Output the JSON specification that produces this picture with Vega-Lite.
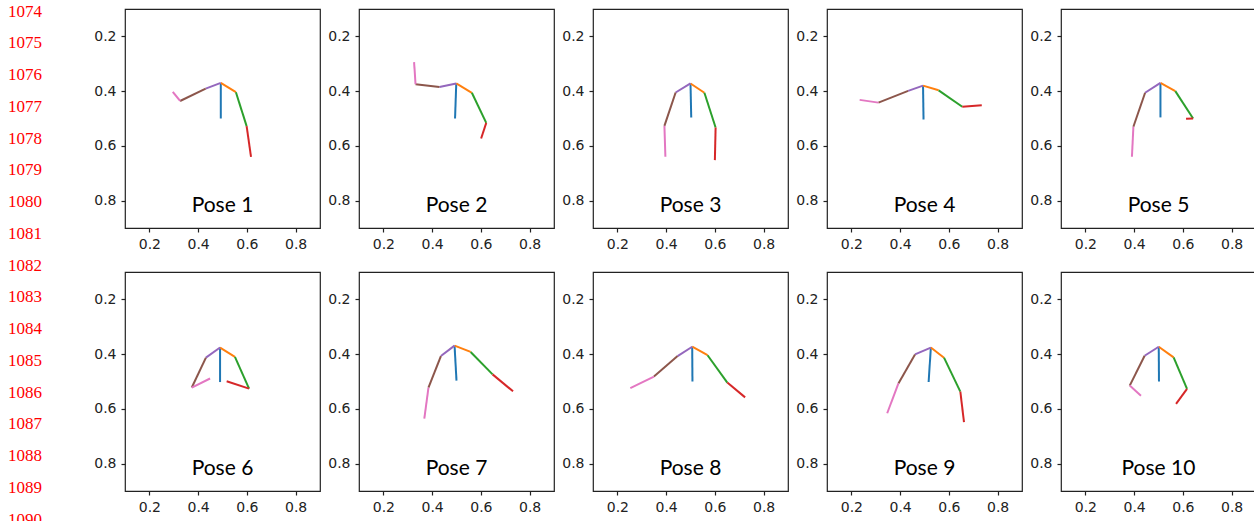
{
  "$schema": "https://vega.github.io/schema/vega-lite/v6.json",
  "padding": {"left": 0, "top": 2, "right": 0, "bottom": 0},
  "bounds": "flush",
  "spacing": 75,
  "config": {
    "view": {"stroke": "#222", "strokeWidth": 1.2},
    "axis": {"grid": false, "domain": false, "labelFont": "DejaVu Sans", "labelFontSize": 14, "labelColor": "#222", "tickColor": "#222", "tickSize": 4, "tickWidth": 1.2, "labelPadding": 5}
  },
  "datasets": {
    "lines": [
      {"n": 1074}, {"n": 1075}, {"n": 1076}, {"n": 1077}, {"n": 1078}, {"n": 1079}, {"n": 1080}, {"n": 1081}, {"n": 1082},
      {"n": 1083}, {"n": 1084}, {"n": 1085}, {"n": 1086}, {"n": 1087}, {"n": 1088}, {"n": 1089}, {"n": 1090}
    ],
    "segs": [
      {"id": 1, "pose": "Pose 1", "seg": "spine", "x": 0.493, "y": 0.370, "x2": 0.493, "y2": 0.500},
      {"id": 1, "pose": "Pose 1", "seg": "rsh", "x": 0.493, "y": 0.370, "x2": 0.555, "y2": 0.404},
      {"id": 1, "pose": "Pose 1", "seg": "rup", "x": 0.555, "y": 0.404, "x2": 0.599, "y2": 0.528},
      {"id": 1, "pose": "Pose 1", "seg": "rlo", "x": 0.599, "y": 0.528, "x2": 0.617, "y2": 0.640},
      {"id": 1, "pose": "Pose 1", "seg": "lsh", "x": 0.493, "y": 0.370, "x2": 0.431, "y2": 0.391},
      {"id": 1, "pose": "Pose 1", "seg": "lup", "x": 0.431, "y": 0.391, "x2": 0.326, "y2": 0.436},
      {"id": 1, "pose": "Pose 1", "seg": "llo", "x": 0.326, "y": 0.436, "x2": 0.296, "y2": 0.403},

      {"id": 2, "pose": "Pose 2", "seg": "spine", "x": 0.499, "y": 0.372, "x2": 0.494, "y2": 0.500},
      {"id": 2, "pose": "Pose 2", "seg": "rsh", "x": 0.499, "y": 0.372, "x2": 0.563, "y2": 0.406},
      {"id": 2, "pose": "Pose 2", "seg": "rup", "x": 0.563, "y": 0.406, "x2": 0.622, "y2": 0.516},
      {"id": 2, "pose": "Pose 2", "seg": "rlo", "x": 0.622, "y": 0.516, "x2": 0.601, "y2": 0.573},
      {"id": 2, "pose": "Pose 2", "seg": "lsh", "x": 0.499, "y": 0.372, "x2": 0.430, "y2": 0.385},
      {"id": 2, "pose": "Pose 2", "seg": "lup", "x": 0.430, "y": 0.385, "x2": 0.332, "y2": 0.375},
      {"id": 2, "pose": "Pose 2", "seg": "llo", "x": 0.332, "y": 0.375, "x2": 0.326, "y2": 0.294},

      {"id": 3, "pose": "Pose 3", "seg": "spine", "x": 0.500, "y": 0.372, "x2": 0.503, "y2": 0.496},
      {"id": 3, "pose": "Pose 3", "seg": "rsh", "x": 0.500, "y": 0.372, "x2": 0.557, "y2": 0.406},
      {"id": 3, "pose": "Pose 3", "seg": "rup", "x": 0.557, "y": 0.406, "x2": 0.603, "y2": 0.533},
      {"id": 3, "pose": "Pose 3", "seg": "rlo", "x": 0.603, "y": 0.533, "x2": 0.600, "y2": 0.652},
      {"id": 3, "pose": "Pose 3", "seg": "lsh", "x": 0.500, "y": 0.372, "x2": 0.439, "y2": 0.405},
      {"id": 3, "pose": "Pose 3", "seg": "lup", "x": 0.439, "y": 0.405, "x2": 0.393, "y2": 0.527},
      {"id": 3, "pose": "Pose 3", "seg": "llo", "x": 0.393, "y": 0.527, "x2": 0.397, "y2": 0.640},

      {"id": 4, "pose": "Pose 4", "seg": "spine", "x": 0.494, "y": 0.380, "x2": 0.496, "y2": 0.504},
      {"id": 4, "pose": "Pose 4", "seg": "rsh", "x": 0.494, "y": 0.380, "x2": 0.558, "y2": 0.397},
      {"id": 4, "pose": "Pose 4", "seg": "rup", "x": 0.558, "y": 0.397, "x2": 0.655, "y2": 0.457},
      {"id": 4, "pose": "Pose 4", "seg": "rlo", "x": 0.655, "y": 0.457, "x2": 0.735, "y2": 0.452},
      {"id": 4, "pose": "Pose 4", "seg": "lsh", "x": 0.494, "y": 0.380, "x2": 0.433, "y2": 0.399},
      {"id": 4, "pose": "Pose 4", "seg": "lup", "x": 0.433, "y": 0.399, "x2": 0.311, "y2": 0.442},
      {"id": 4, "pose": "Pose 4", "seg": "llo", "x": 0.311, "y": 0.442, "x2": 0.234, "y2": 0.432},

      {"id": 5, "pose": "Pose 5", "seg": "spine", "x": 0.508, "y": 0.370, "x2": 0.508, "y2": 0.496},
      {"id": 5, "pose": "Pose 5", "seg": "rsh", "x": 0.508, "y": 0.370, "x2": 0.569, "y2": 0.400},
      {"id": 5, "pose": "Pose 5", "seg": "rup", "x": 0.569, "y": 0.400, "x2": 0.642, "y2": 0.500},
      {"id": 5, "pose": "Pose 5", "seg": "rlo", "x": 0.642, "y": 0.500, "x2": 0.613, "y2": 0.501},
      {"id": 5, "pose": "Pose 5", "seg": "lsh", "x": 0.508, "y": 0.370, "x2": 0.445, "y2": 0.406},
      {"id": 5, "pose": "Pose 5", "seg": "lup", "x": 0.445, "y": 0.406, "x2": 0.397, "y2": 0.530},
      {"id": 5, "pose": "Pose 5", "seg": "llo", "x": 0.397, "y": 0.530, "x2": 0.391, "y2": 0.640},

      {"id": 6, "pose": "Pose 6", "seg": "spine", "x": 0.490, "y": 0.376, "x2": 0.490, "y2": 0.502},
      {"id": 6, "pose": "Pose 6", "seg": "rsh", "x": 0.490, "y": 0.376, "x2": 0.551, "y2": 0.410},
      {"id": 6, "pose": "Pose 6", "seg": "rup", "x": 0.551, "y": 0.410, "x2": 0.609, "y2": 0.526},
      {"id": 6, "pose": "Pose 6", "seg": "rlo", "x": 0.609, "y": 0.526, "x2": 0.517, "y2": 0.499},
      {"id": 6, "pose": "Pose 6", "seg": "lsh", "x": 0.490, "y": 0.376, "x2": 0.432, "y2": 0.413},
      {"id": 6, "pose": "Pose 6", "seg": "lup", "x": 0.432, "y": 0.413, "x2": 0.374, "y2": 0.522},
      {"id": 6, "pose": "Pose 6", "seg": "llo", "x": 0.374, "y": 0.522, "x2": 0.449, "y2": 0.489},

      {"id": 7, "pose": "Pose 7", "seg": "spine", "x": 0.492, "y": 0.369, "x2": 0.500, "y2": 0.497},
      {"id": 7, "pose": "Pose 7", "seg": "rsh", "x": 0.492, "y": 0.369, "x2": 0.558, "y2": 0.392},
      {"id": 7, "pose": "Pose 7", "seg": "rup", "x": 0.558, "y": 0.392, "x2": 0.648, "y2": 0.474},
      {"id": 7, "pose": "Pose 7", "seg": "rlo", "x": 0.648, "y": 0.474, "x2": 0.732, "y2": 0.536},
      {"id": 7, "pose": "Pose 7", "seg": "lsh", "x": 0.492, "y": 0.369, "x2": 0.436, "y2": 0.407},
      {"id": 7, "pose": "Pose 7", "seg": "lup", "x": 0.436, "y": 0.407, "x2": 0.385, "y2": 0.522},
      {"id": 7, "pose": "Pose 7", "seg": "llo", "x": 0.385, "y": 0.522, "x2": 0.368, "y2": 0.636},

      {"id": 8, "pose": "Pose 8", "seg": "spine", "x": 0.507, "y": 0.373, "x2": 0.508, "y2": 0.500},
      {"id": 8, "pose": "Pose 8", "seg": "rsh", "x": 0.507, "y": 0.373, "x2": 0.570, "y2": 0.404},
      {"id": 8, "pose": "Pose 8", "seg": "rup", "x": 0.570, "y": 0.404, "x2": 0.651, "y2": 0.504},
      {"id": 8, "pose": "Pose 8", "seg": "rlo", "x": 0.651, "y": 0.504, "x2": 0.724, "y2": 0.558},
      {"id": 8, "pose": "Pose 8", "seg": "lsh", "x": 0.507, "y": 0.373, "x2": 0.447, "y2": 0.407},
      {"id": 8, "pose": "Pose 8", "seg": "lup", "x": 0.447, "y": 0.407, "x2": 0.350, "y2": 0.482},
      {"id": 8, "pose": "Pose 8", "seg": "llo", "x": 0.350, "y": 0.482, "x2": 0.253, "y2": 0.524},

      {"id": 9, "pose": "Pose 9", "seg": "spine", "x": 0.526, "y": 0.376, "x2": 0.517, "y2": 0.502},
      {"id": 9, "pose": "Pose 9", "seg": "rsh", "x": 0.526, "y": 0.376, "x2": 0.580, "y2": 0.413},
      {"id": 9, "pose": "Pose 9", "seg": "rup", "x": 0.580, "y": 0.413, "x2": 0.647, "y2": 0.537},
      {"id": 9, "pose": "Pose 9", "seg": "rlo", "x": 0.647, "y": 0.537, "x2": 0.662, "y2": 0.648},
      {"id": 9, "pose": "Pose 9", "seg": "lsh", "x": 0.526, "y": 0.376, "x2": 0.461, "y2": 0.401},
      {"id": 9, "pose": "Pose 9", "seg": "lup", "x": 0.461, "y": 0.401, "x2": 0.393, "y2": 0.507},
      {"id": 9, "pose": "Pose 9", "seg": "llo", "x": 0.393, "y": 0.507, "x2": 0.347, "y2": 0.616},

      {"id": 10, "pose": "Pose 10", "seg": "spine", "x": 0.501, "y": 0.373, "x2": 0.502, "y2": 0.500},
      {"id": 10, "pose": "Pose 10", "seg": "rsh", "x": 0.501, "y": 0.373, "x2": 0.562, "y2": 0.412},
      {"id": 10, "pose": "Pose 10", "seg": "rup", "x": 0.562, "y": 0.412, "x2": 0.617, "y2": 0.527},
      {"id": 10, "pose": "Pose 10", "seg": "rlo", "x": 0.617, "y": 0.527, "x2": 0.572, "y2": 0.582},
      {"id": 10, "pose": "Pose 10", "seg": "lsh", "x": 0.501, "y": 0.373, "x2": 0.443, "y2": 0.406},
      {"id": 10, "pose": "Pose 10", "seg": "lup", "x": 0.443, "y": 0.406, "x2": 0.382, "y2": 0.515},
      {"id": 10, "pose": "Pose 10", "seg": "llo", "x": 0.382, "y": 0.515, "x2": 0.428, "y2": 0.552}
    ]
  },
  "hconcat": [
    {
      "width": 50,
      "height": 482,
      "view": {"stroke": null},
      "data": {"name": "lines"},
      "mark": {"type": "text", "font": "Liberation Serif", "fontSize": 17, "color": "#ff0000", "baseline": "middle", "align": "center"},
      "encoding": {
        "y": {"field": "n", "type": "quantitative", "scale": {"domain": [1073.921, 1089.102], "nice": false, "zero": false, "reverse": true}, "axis": null},
        "text": {"field": "n", "type": "quantitative", "format": "d"}
      }
    },
    {
      "data": {"name": "segs"},
      "facet": {"field": "id", "type": "ordinal", "title": null, "header": {"labelExpr": "''", "labelFontSize": 1, "labelPadding": 0, "labelColor": "transparent", "title": null, "titlePadding": 0}},
      "columns": 5,
      "spacing": {"column": 39, "row": 44},
      "bounds": "flush",
      "resolve": {"axis": {"x": "independent", "y": "independent"}},
      "spec": {
        "width": 195,
        "height": 219,
        "layer": [
          {
            "mark": {"type": "rule", "strokeWidth": 2, "strokeCap": "butt"},
            "encoding": {
              "x": {"field": "x", "type": "quantitative", "scale": {"domain": [0.1, 0.9], "nice": false, "zero": false}, "axis": {"values": [0.2, 0.4, 0.6, 0.8], "format": ".1f", "title": null}},
              "y": {"field": "y", "type": "quantitative", "scale": {"domain": [0.1, 0.9], "nice": false, "zero": false, "reverse": true}, "axis": {"values": [0.2, 0.4, 0.6, 0.8], "format": ".1f", "title": null}},
              "x2": {"field": "x2"},
              "y2": {"field": "y2"},
              "color": {
                "field": "seg", "type": "nominal", "legend": null,
                "scale": {"domain": ["spine", "rsh", "rup", "rlo", "lsh", "lup", "llo"], "range": ["#1f77b4", "#ff7f0e", "#2ca02c", "#d62728", "#9467bd", "#8c564b", "#e377c2"]}
              }
            }
          },
          {
            "transform": [{"filter": "datum.seg === 'spine'"}],
            "mark": {"type": "text", "font": "Lato", "fontSize": 21, "baseline": "alphabetic", "align": "center", "color": "#000"},
            "encoding": {
              "x": {"datum": 0.5, "type": "quantitative", "axis": {"values": [0.2, 0.4, 0.6, 0.8], "format": ".1f", "title": null}},
              "y": {"datum": 0.843, "type": "quantitative", "axis": {"values": [0.2, 0.4, 0.6, 0.8], "format": ".1f", "title": null}},
              "text": {"field": "pose", "type": "nominal"}
            }
          }
        ]
      }
    }
  ]
}
